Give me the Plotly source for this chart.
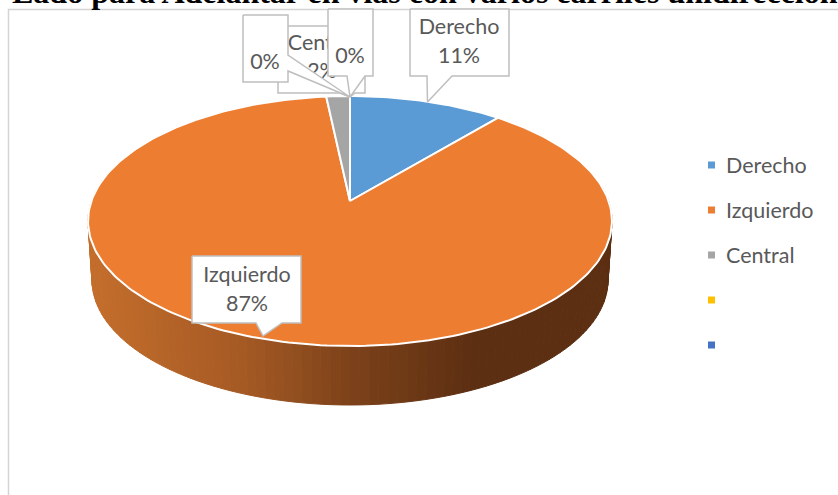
import math
import plotly.graph_objects as go

TITLE = "Lado para Adelantar en vías con varios carriles unidireccionales"
categories = ["Derecho", "Izquierdo", "Central", " ", "  "]
values = [11.1, 87.2, 1.7, 0.0, 0.0]
percent_labels = ["11%", "87%", "2%", "0%", "0%"]
colors = ["#5B9BD5", "#ED7D31", "#A5A5A5", "#FFC000", "#4472C4"]

W, H = 838, 495
CX, AY = 350, 201
FONT = "Lato, Carlito, Calibri, sans-serif"
TXT = "#595959"
BOXC = "#BFBFBF"
SIZE = 21.5


def project(phi, sx=1.0, dy=0.0):
    X, Y = math.sin(phi), -math.cos(phi)
    d = 1 - 0.16 * Y
    return CX + sx * 258.6 * X / d, AY + (89.64 * Y) / d + (201 * 0.16 * Y) / d + dy


def lerp_color(x):
    stops = [(88, (196, 110, 44)), (240, (166, 90, 36)), (350, (125, 66, 26)),
             (470, (93, 47, 18)), (612, (93, 47, 18))]
    for (x0, c0), (x1, c1) in zip(stops, stops[1:]):
        if x <= x1:
            t = max(0, (x - x0) / (x1 - x0))
            return "rgb(%d,%d,%d)" % tuple(round(a + (b - a) * t) for a, b in zip(c0, c1))
    return "rgb(%d,%d,%d)" % stops[-1][1]


fig = go.Figure()


def poly(xs, ys, fill, line=None, width=0):
    fig.add_trace(go.Scatter(x=xs, y=ys, mode="lines", fill="toself", fillcolor=fill,
                             line=dict(color=line or fill, width=width or 1),
                             hoverinfo="skip", showlegend=False))


def label(x, y, text, color=TXT, size=SIZE, family=FONT):
    fig.add_trace(go.Scatter(x=[x], y=[y], mode="text", text=[text], textposition="middle center",
                             textfont=dict(family=family, size=size, color=color),
                             hoverinfo="skip", showlegend=False))


# chart frame
fig.add_trace(go.Scatter(x=[838, 8.5, 8.5], y=[9.5, 9.5, 495], mode="lines",
                         line=dict(color="#D4D4D4", width=1.5), hoverinfo="skip", showlegend=False))

# pie side
N = 110
for i in range(N):
    a0 = math.radians(80 + 200 * i / N)
    a1 = math.radians(80 + 200 * (i + 1) / N)
    t0, t1 = project(a0), project(a1)
    b0, b1 = project(a0, 0.985, 59), project(a1, 0.985, 59)
    poly([t0[0], t1[0], b1[0], b0[0], t0[0]], [t0[1], t1[1], b1[1], b0[1], t0[1]],
         lerp_color((t0[0] + t1[0]) / 2))

# pie top
total = sum(values)
start = 0.0
for v, c in zip(values, colors):
    if v > 0:
        end = start + v / total * 2 * math.pi
        n = max(3, int(v * 3))
        pts = [project(start + (end - start) * k / n) for k in range(n + 1)]
        xs = [CX] + [p[0] for p in pts] + [CX]
        ys = [AY] + [p[1] for p in pts] + [AY]
        poly(xs, ys, c, "#FFFFFF", 2)
        start = end

# callouts
def callout(pts, lines):
    poly([p[0] for p in pts] + [pts[0][0]], [p[1] for p in pts] + [pts[0][1]], "#FFFFFF", BOXC, 1.5)
    for (x, y, t) in lines:
        label(x, y, t)


TIP = (350, 97)
callout([(278, 26), (365, 26), (365, 93), (355, 93), TIP, (340, 93), (278, 93)],
        [(322, 45, categories[2]), (322, 73, percent_labels[2])])
callout([(243, 15), (288, 15), (288, 55), TIP, (288, 71), (288, 82), (243, 82)],
        [(265, 64, percent_labels[3])])
callout([(328, 9), (373, 9), (373, 76), (365, 76), TIP, (347, 76), (328, 76)],
        [(350, 58, percent_labels[4])])
callout([(410, 9), (509, 9), (509, 76), (452, 76), (427.5, 102), (427, 76), (410, 76)],
        [(459, 29, categories[0]), (459, 58, percent_labels[0])])
callout([(192, 256), (301, 256), (301, 323), (282, 323), (263, 336), (256, 323), (192, 323)],
        [(247, 277, categories[1]), (247, 306, percent_labels[1])])

# legend
LEGY = [165, 210, 255, 300, 345]
fig.add_trace(go.Scatter(x=[711.5] * 5, y=LEGY, mode="markers",
                         marker=dict(symbol="square", size=7, color=colors),
                         hoverinfo="skip", showlegend=False))
for y, t in zip(LEGY, categories):
    if t.strip():
        fig.add_annotation(x=724, y=y, text=t, showarrow=False, xanchor="left", yanchor="middle",
                           font=dict(family=FONT, size=SIZE, color=TXT))

# clipped title
fig.add_annotation(x=450 / W, y=1 + 8.0 / H, xref="paper", yref="paper", text="<b>%s</b>" % TITLE,
                   showarrow=False, xanchor="center", yanchor="middle",
                   font=dict(family="Liberation Serif", size=32, color="#000000"))

fig.update_layout(width=W, height=H, margin=dict(l=0, r=0, t=0, b=0), showlegend=False,
                  paper_bgcolor="#FFFFFF", plot_bgcolor="#FFFFFF",
                  xaxis=dict(range=[0, W], visible=False, fixedrange=True),
                  yaxis=dict(range=[H, 0], visible=False, fixedrange=True))
fig.write_html("out.html", config={"displayModeBar": False},
               post_script="document.body.style.margin='0';document.documentElement.style.overflow='hidden';")
